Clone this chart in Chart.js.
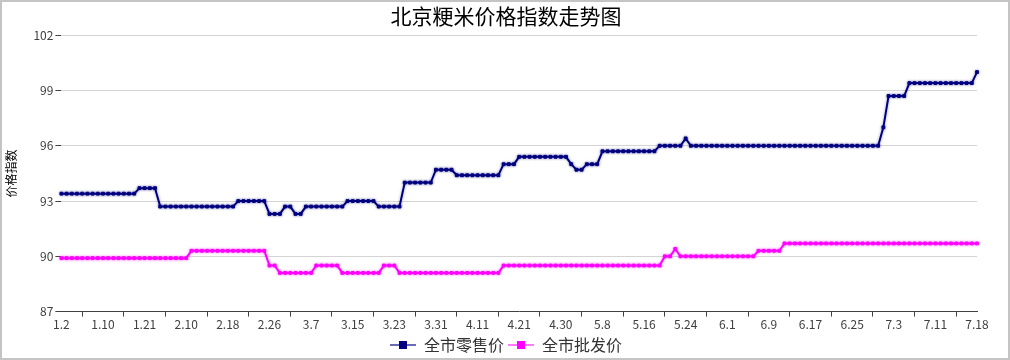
<!DOCTYPE html>
<html lang="zh">
<head>
    <meta charset="UTF-8">
    <title>北京粳米价格指数走势图</title>
    <script src="https://cdn.jsdelivr.net/npm/chart.js"></script>
    <style>
        body {
            margin: 0;
            background: #fff;
        }
        .chart-container {
            width: 1010px;
            height: 360px;
            box-sizing: border-box;
            border: 2px solid #c4c4c4;
            background: #fff;
        }
    </style>
</head>
<body>
    <div class="chart-container">
        <canvas id="riceChart"></canvas>
    </div>

    <script>
        // x 轴只每 8 个点标一次日期
        const tickLabels = ['1.2', '1.10', '1.21', '2.10', '2.18', '2.26', '3.7', '3.15', '3.23', '3.31', '4.11',
            '4.21', '4.30', '5.8', '5.16', '5.24', '6.1', '6.9', '6.17', '6.25', '7.3', '7.11', '7.18'];

        const retail = [
            93.4, 93.4, 93.4, 93.4, 93.4, 93.4, 93.4, 93.4, 93.4, 93.4, 93.4, 93.4, 93.4, 93.4, 93.4,
            93.7, 93.7, 93.7, 93.7,
            92.7, 92.7, 92.7, 92.7, 92.7, 92.7, 92.7, 92.7, 92.7, 92.7, 92.7, 92.7, 92.7, 92.7, 92.7,
            93.0, 93.0, 93.0, 93.0, 93.0, 93.0,
            92.3, 92.3, 92.3, 92.7, 92.7, 92.3, 92.3,
            92.7, 92.7, 92.7, 92.7, 92.7, 92.7, 92.7, 92.7,
            93.0, 93.0, 93.0, 93.0, 93.0, 93.0,
            92.7, 92.7, 92.7, 92.7, 92.7,
            94.0, 94.0, 94.0, 94.0, 94.0, 94.0,
            94.7, 94.7, 94.7, 94.7,
            94.4, 94.4, 94.4, 94.4, 94.4, 94.4, 94.4, 94.4, 94.4,
            95.0, 95.0, 95.0,
            95.4, 95.4, 95.4, 95.4, 95.4, 95.4, 95.4, 95.4, 95.4, 95.4,
            95.0, 94.7, 94.7, 95.0, 95.0, 95.0,
            95.7, 95.7, 95.7, 95.7, 95.7, 95.7, 95.7, 95.7, 95.7, 95.7, 95.7,
            96.0, 96.0, 96.0, 96.0, 96.0, 96.4,
            96.0, 96.0, 96.0, 96.0, 96.0, 96.0, 96.0, 96.0, 96.0, 96.0,
            96.0, 96.0, 96.0, 96.0, 96.0, 96.0, 96.0, 96.0, 96.0, 96.0,
            96.0, 96.0, 96.0, 96.0, 96.0, 96.0, 96.0, 96.0, 96.0, 96.0,
            96.0, 96.0, 96.0, 96.0, 96.0, 96.0, 96.0,
            97.0, 98.7, 98.7, 98.7, 98.7,
            99.4, 99.4, 99.4, 99.4, 99.4, 99.4, 99.4, 99.4, 99.4, 99.4, 99.4, 99.4, 99.4,
            100.0
        ];

        const wholesale = [
            89.9, 89.9, 89.9, 89.9, 89.9, 89.9, 89.9, 89.9, 89.9, 89.9, 89.9, 89.9, 89.9,
            89.9, 89.9, 89.9, 89.9, 89.9, 89.9, 89.9, 89.9, 89.9, 89.9, 89.9, 89.9,
            90.3, 90.3, 90.3, 90.3, 90.3, 90.3, 90.3, 90.3, 90.3, 90.3, 90.3, 90.3, 90.3, 90.3, 90.3,
            89.5, 89.5,
            89.1, 89.1, 89.1, 89.1, 89.1, 89.1, 89.1,
            89.5, 89.5, 89.5, 89.5, 89.5,
            89.1, 89.1, 89.1, 89.1, 89.1, 89.1, 89.1, 89.1,
            89.5, 89.5, 89.5,
            89.1, 89.1, 89.1, 89.1, 89.1, 89.1, 89.1, 89.1, 89.1, 89.1,
            89.1, 89.1, 89.1, 89.1, 89.1, 89.1, 89.1, 89.1, 89.1, 89.1,
            89.5, 89.5, 89.5, 89.5, 89.5, 89.5, 89.5, 89.5, 89.5, 89.5,
            89.5, 89.5, 89.5, 89.5, 89.5, 89.5, 89.5, 89.5, 89.5, 89.5,
            89.5, 89.5, 89.5, 89.5, 89.5, 89.5, 89.5, 89.5, 89.5, 89.5, 89.5,
            90.0, 90.0, 90.4,
            90.0, 90.0, 90.0, 90.0, 90.0, 90.0, 90.0, 90.0, 90.0, 90.0, 90.0, 90.0, 90.0, 90.0, 90.0,
            90.3, 90.3, 90.3, 90.3, 90.3,
            90.7, 90.7, 90.7, 90.7, 90.7, 90.7, 90.7, 90.7, 90.7, 90.7,
            90.7, 90.7, 90.7, 90.7, 90.7, 90.7, 90.7, 90.7, 90.7, 90.7,
            90.7, 90.7, 90.7, 90.7, 90.7, 90.7, 90.7, 90.7, 90.7, 90.7,
            90.7, 90.7, 90.7, 90.7, 90.7, 90.7, 90.7, 90.7
        ];

        const labels = retail.map((v, i) => i % 8 === 0 ? tickLabels[i / 8] : '');

        const cjk = "'Noto Sans CJK SC', 'Noto Sans', sans-serif";
        const glow = ['rgba(0,0,128,0.4)', 'rgba(255,0,255,0.4)'];

        // 图例里的 "—■—" 小图标
        function legendIcon(lineColor, markColor) {
            const c = document.createElement('canvas');
            c.width = 26;
            c.height = 10;
            const ctx = c.getContext('2d');
            ctx.strokeStyle = lineColor;
            ctx.lineWidth = 2;
            ctx.beginPath();
            ctx.moveTo(0, 5);
            ctx.lineTo(26, 5);
            ctx.stroke();
            ctx.fillStyle = markColor;
            ctx.fillRect(9, 1, 8, 8);
            return c;
        }

        const icons = [legendIcon('#6a6ab8', '#000080'), legendIcon('#ff7cff', '#ff00ff')];

        // 线条外面那圈淡色光晕
        const glowPlugin = {
            id: 'glow',
            beforeDatasetDraw(chart, args) {
                const ctx = chart.ctx;
                ctx.save();
                ctx.shadowColor = glow[args.index];
                ctx.shadowBlur = 3;
            },
            afterDatasetDraw(chart) {
                chart.ctx.restore();
            }
        };

        const riceChart = new Chart(document.getElementById('riceChart'), {
            type: 'line',
            data: {
                labels: labels,
                datasets: [{
                    label: '全市零售价',
                    data: retail,
                    borderColor: '#000080',
                    backgroundColor: '#000080',
                    borderWidth: 2,
                    pointStyle: 'rect',
                    pointRadius: 2,
                    pointBorderWidth: 1,
                    tension: 0
                }, {
                    label: '全市批发价',
                    data: wholesale,
                    borderColor: '#ff00ff',
                    backgroundColor: '#ff00ff',
                    borderWidth: 2,
                    pointStyle: 'rect',
                    pointRadius: 2,
                    pointBorderWidth: 1,
                    tension: 0
                }]
            },
            plugins: [glowPlugin],
            options: {
                responsive: true,
                maintainAspectRatio: false,
                animation: false,
                layout: {
                    padding: { left: 2, right: 0, top: 0, bottom: -5 }
                },
                scales: {
                    x: {
                        offset: false,
                        border: { display: true, color: '#404040', width: 1 },
                        grid: {
                            drawOnChartArea: false,
                            drawTicks: true,
                            tickLength: 5,
                            color: ctx => ctx.index % 8 === 4 ? '#404040' : 'rgba(0,0,0,0)'
                        },
                        ticks: {
                            autoSkip: false,
                            maxRotation: 0,
                            padding: 1,
                            color: '#404040',
                            font: { family: cjk, size: 12 }
                        }
                    },
                    y: {
                        min: 87,
                        max: 102,
                        border: { display: false },
                        afterFit: scale => { scale.width += 9; },
                        grid: {
                            color: '#d4d4d4',
                            tickColor: '#404040',
                            tickLength: 6
                        },
                        ticks: {
                            stepSize: 3,
                            padding: 2,
                            color: '#404040',
                            font: { family: cjk, size: 12 }
                        },
                        title: {
                            display: true,
                            text: '价格指数',
                            color: '#000',
                            font: { family: cjk, size: 12 },
                            padding: { top: 0, bottom: 4 }
                        }
                    },
                    // 右侧留白用的空轴
                    yRight: {
                        position: 'right',
                        min: 0,
                        max: 1,
                        grid: { display: false },
                        border: { display: false },
                        ticks: { display: false },
                        afterFit: scale => { scale.width = 31; }
                    }
                },
                plugins: {
                    title: {
                        display: true,
                        text: '北京粳米价格指数走势图',
                        color: '#000',
                        font: { family: cjk, size: 21, weight: 'normal' },
                        padding: { top: 1, bottom: 7 }
                    },
                    legend: {
                        position: 'bottom',
                        labels: {
                            usePointStyle: true,
                            pointStyleWidth: 26,
                            boxHeight: 10,
                            padding: 4,
                            color: '#333',
                            font: { family: cjk, size: 16 },
                            generateLabels: chart => Chart.defaults.plugins.legend.labels.generateLabels(chart)
                                .map((item, i) => Object.assign(item, { pointStyle: icons[i] }))
                        }
                    },
                    tooltip: { enabled: false }
                }
            }
        });
    </script>
</body>
</html>
